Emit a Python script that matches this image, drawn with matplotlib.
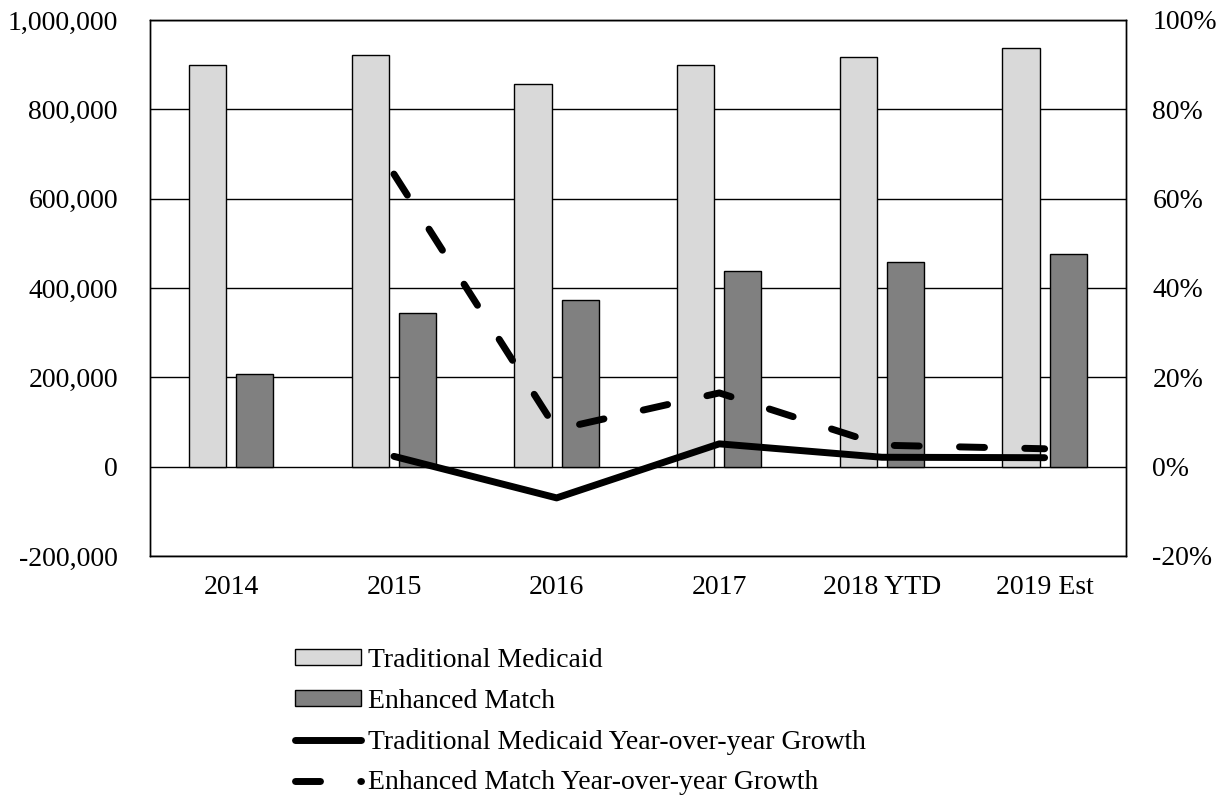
import numpy as np
import matplotlib
matplotlib.use("Agg")
import matplotlib.pyplot as plt
from matplotlib.ticker import FuncFormatter

#Chart data
years = ["2014", "2015", "2016", "2017", "2018 YTD", "2019 Est"]
traditional = [900000, 921000, 856000, 899000, 917000, 937000]
enhanced = [208000, 345000, 373000, 437000, 457000, 475000]
#Growth rates (percent), none for the first year
traditionalGrowth = [np.nan, 2.3, -7.0, 5.1, 2.1, 2.0]
enhancedGrowth = [np.nan, 65.5, 8.3, 16.5, 4.8, 4.0]

plt.rcParams['font.family'] = ['Liberation Serif', 'DejaVu Serif']
fontSize = 20

fig = plt.figure(figsize=(12.28, 7.98), dpi=100)
ax = fig.add_axes([0.1221, 0.3033, 0.7948, 0.6717])
ax2 = ax.twinx()

x = np.arange(len(years))
barWidth = 0.228
offset = 0.145

#Bars on the left axis
ax.bar(x - offset, traditional, barWidth, color="#d9d9d9", edgecolor="black",
       linewidth=1.0, label="Traditional Medicaid", zorder=2)
ax.bar(x + offset, enhanced, barWidth, color="#808080", edgecolor="black",
       linewidth=1.0, label="Enhanced Match", zorder=2)

ax.set_ylim(-200000, 1000000)
ax.set_yticks(np.arange(-200000, 1000001, 200000))
ax.yaxis.set_major_formatter(FuncFormatter(lambda v, p: "{:,.0f}".format(v)))
ax.grid(axis="y", color="black", linewidth=1.0, zorder=0)
ax.set_axisbelow(True)
ax.set_xlim(-0.5, len(years) - 0.5)
ax.set_xticks(x)
ax.set_xticklabels(years)
ax.tick_params(axis="y", length=0, pad=23, labelsize=fontSize)
ax.tick_params(axis="x", length=0, pad=14, labelsize=fontSize)

#Growth lines on the right axis
lw = 5
ax2.plot(x, traditionalGrowth, color="black", linewidth=lw, solid_capstyle="round",
         solid_joinstyle="round", label="Traditional Medicaid Year-over-year Growth", zorder=3)
ax2.plot(x, enhancedGrowth, color="black", linewidth=lw, linestyle=(0, (3.6, 5.8)),
         dash_capstyle="round", label="Enhanced Match Year-over-year Growth", zorder=3)
ax2.set_ylim(-20, 100)
ax2.set_yticks(np.arange(-20, 101, 20))
ax2.yaxis.set_major_formatter(FuncFormatter(lambda v, p: "{:.0f}%".format(v)))
ax2.tick_params(axis="y", length=0, pad=19, labelsize=fontSize)

for axis in (ax, ax2):
    for spine in axis.spines.values():
        spine.set_color("black")
        spine.set_linewidth(1.0)

#Legend below the plot
handles1, labels1 = ax.get_legend_handles_labels()
handles2, labels2 = ax2.get_legend_handles_labels()
fig.legend(handles1 + handles2, labels1 + labels2, loc="upper left",
           bbox_to_anchor=(0.2405, 0.188), frameon=False, fontsize=fontSize,
           handlelength=2.35, handleheight=0.5, handletextpad=0.25,
           labelspacing=0.57, borderpad=0, borderaxespad=0)

fig.savefig("out.png", dpi=100)
